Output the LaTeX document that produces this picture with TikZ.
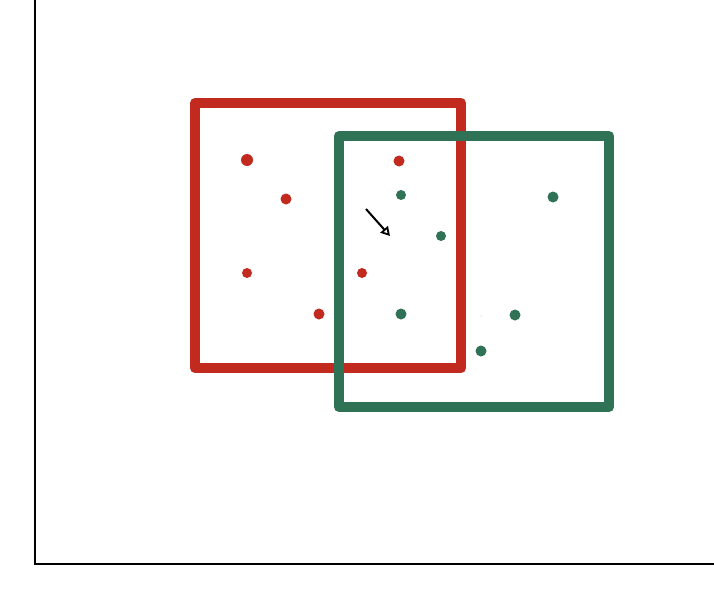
\documentclass[tikz,border=0pt]{standalone}
\usetikzlibrary{arrows.meta}
\definecolor{rred}{HTML}{C22A20}
\definecolor{ggreen}{HTML}{2F7256}
\begin{document}
\begin{tikzpicture}[x=1pt,y=-1pt,
  axis/.style={line width=2pt,black},
  sq/.style={line width=10pt,line join=round},
  rdot/.style={circle,fill=rred,inner sep=0pt,minimum size=#1},
  gdot/.style={circle,fill=ggreen,inner sep=0pt,minimum size=#1}]
\useasboundingbox (0,0) rectangle (714,594);
\fill[white] (0,0) rectangle (714,594);
\coordinate (top) at (35,0);
\coordinate (orig) at (35,564);
\coordinate (right) at (714,564);
\draw[axis] (top) -- (orig) -- (right);
\draw[sq,rred] (195,103) rectangle (461,368);
\draw[sq,ggreen] (339,136) rectangle (609,407);
% red dots
\node[rdot=12pt] (r1) at (247,160) {};
\node[rdot=11pt] (r2) at (286,199) {};
\node[rdot=11pt] (r3) at (399,161) {};
\node[rdot=10pt] (r4) at (247,273) {};
\node[rdot=10pt] (r5) at (362,273) {};
\node[rdot=11pt] (r6) at (319,314) {};
% green dots
\node[gdot=10pt] (g1) at (401,195) {};
\node[gdot=11pt] (g2) at (553,197) {};
\node[gdot=10pt] (g3) at (441,236) {};
\node[gdot=11pt] (g4) at (401,314) {};
\node[gdot=11pt] (g5) at (515,315) {};
\node[gdot=11pt] (g6) at (481,351) {};
\node[circle,fill=black!12,inner sep=0pt,minimum size=1.5pt] (faint) at (481,316) {};
% arrow
\coordinate (a0) at (366,209);
\coordinate (a1) at (390,236);
\draw[line width=2pt,-{Triangle[open,length=9pt,width=10pt,line width=1.8pt]}] (a0) -- (a1);
\end{tikzpicture}
\end{document}
